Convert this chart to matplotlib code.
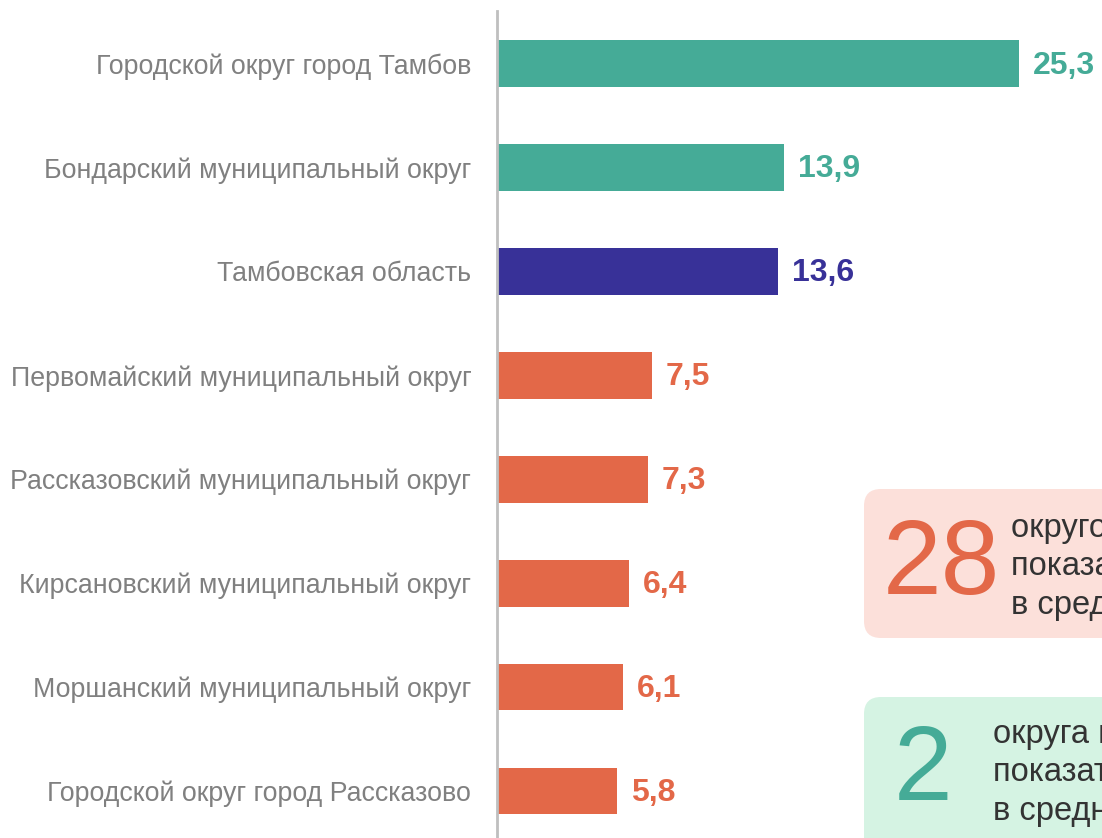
import matplotlib.pyplot as plt
from matplotlib.patches import FancyBboxPatch

plt.rcParams['font.family'] = ['Liberation Sans', 'DejaVu Sans']

categories = [
    "Городской округ город Тамбов",
    "Бондарский муниципальный округ",
    "Тамбовская область",
    "Первомайский муниципальный округ",
    "Рассказовский муниципальный округ",
    "Кирсановский муниципальный округ",
    "Моршанский муниципальный округ",
    "Городской округ город Рассказово",
]
values = [25.3, 13.9, 13.6, 7.5, 7.3, 6.4, 6.1, 5.8]
groups = ["high", "high", "region", "low", "low", "low", "low", "low"]

low_count = "28"
high_count = "2"
low_text = "округов имеют\nпоказатель ниже\nв среднем по области"
high_text = "округа имеют\nпоказатель выше\nв среднем по области"

colors = {"high": "#45AB97", "region": "#383198", "low": "#E36848"}

fig = plt.figure(figsize=(11.02, 8.38), dpi=100)
W, H = 1102, 838
ax = fig.add_axes([497 / W, 0, (W - 497) / W, (H - 11) / H])

ypos = list(range(len(categories)))
bar_colors = [colors[g] for g in groups]
ax.barh(ypos, values, height=0.45, color=bar_colors)
ax.set_xlim(0, (W - 497) / 20.63)
ax.set_ylim(7 + 47 / 104, -52.5 / 104)

for y, v, c in zip(ypos, values, bar_colors):
    ax.text(v + 0.68, y + 0.02, f"{v:.1f}".replace(".", ","), color=c,
            fontsize=23, fontweight='bold', va='center', ha='left')

ax.set_yticks(ypos)
ax.set_yticklabels(categories, fontsize=19.3, color='#808080')
ax.tick_params(axis='y', length=0, pad=18.5)
ax.set_xticks([])
for s in ['top', 'right', 'bottom']:
    ax.spines[s].set_visible(False)
ax.spines['left'].set_color('#BFBFBF')
ax.spines['left'].set_linewidth(2)

# info boxes (inches from bottom-left)
pink = FancyBboxPatch((8.64, 2.00), 3.0, 1.49,
                      boxstyle="round,pad=0,rounding_size=0.17",
                      transform=fig.dpi_scale_trans, facecolor='#FCE0DA',
                      edgecolor='none')
green = FancyBboxPatch((8.64, -0.3), 3.0, 1.71,
                       boxstyle="round,pad=0,rounding_size=0.17",
                       transform=fig.dpi_scale_trans, facecolor='#D5F3E3',
                       edgecolor='none')
fig.patches.extend([pink, green])

fig.text(9.41, 2.72, low_count, transform=fig.dpi_scale_trans, fontsize=76,
         color='#E36848', ha='center', va='center')
fig.text(10.11, 2.71, low_text, transform=fig.dpi_scale_trans, fontsize=23.5,
         color='#333333', ha='left', va='center', linespacing=1.27)
fig.text(9.23, 0.66, high_count, transform=fig.dpi_scale_trans, fontsize=76,
         color='#45AB97', ha='center', va='center')
fig.text(9.93, 0.65, high_text, transform=fig.dpi_scale_trans, fontsize=23.5,
         color='#333333', ha='left', va='center', linespacing=1.27)

fig.savefig('out.png', dpi=100)
